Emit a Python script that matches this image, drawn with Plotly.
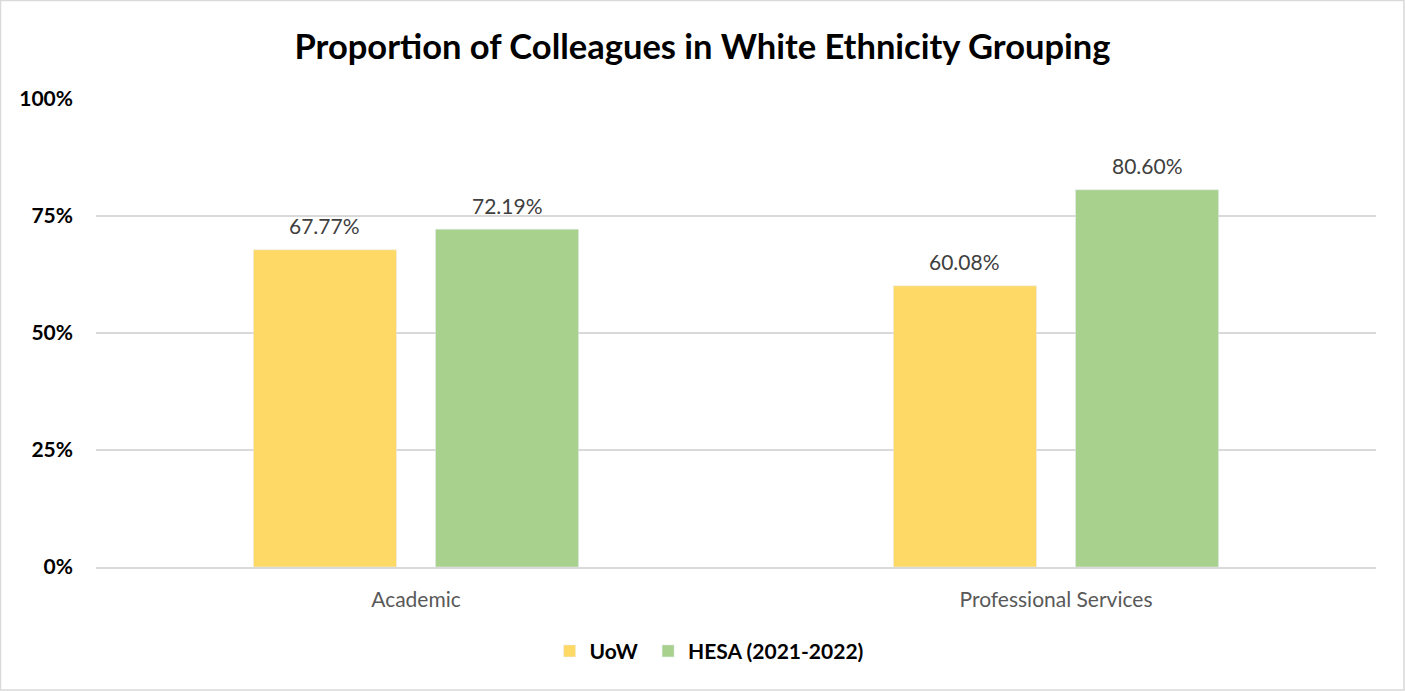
import plotly.graph_objects as go

categories = ["Academic", "Professional Services"]
uow = [67.77, 60.08]
hesa = [72.19, 80.60]
series_names = ["UoW", "HESA (2021-2022)"]
title = "Proportion of Colleagues in White Ethnicity Grouping"
y_ticks = [0, 25, 50, 75, 100]
y_tick_labels = ["0%", "25%", "50%", "75%", "100%"]

FONT = "Lato"
BARGAP = 0.431
GROUPGAP = 0.214
series = [(series_names[0], uow, "#FFD966"), (series_names[1], hesa, "#A9D18E")]

fig = go.Figure()
for i, (name, vals, color) in enumerate(series):
    label = f"<b>{name}</b>" + ("\u00a0" if i == 0 else "")
    fig.add_trace(go.Bar(x=categories, y=vals, name=label, marker_color=color))

# data labels positioned through the category axis
slot = (1 - BARGAP) / len(series)
for i, (name, vals, color) in enumerate(series):
    off = -(1 - BARGAP) / 2 + slot * (i + 0.5)
    for ci, v in enumerate(vals):
        fig.add_annotation(x=ci + off, y=v, xref="x", yref="y", text=f"{v:.2f}%",
                           showarrow=False, yanchor="middle", yshift=24,
                           font=dict(family=FONT, size=21, color="#404040"))

fig.update_layout(
    width=1405, height=691,
    paper_bgcolor="white", plot_bgcolor="white",
    margin=dict(l=96, r=29, t=99, b=124),
    barmode="group", bargap=BARGAP, bargroupgap=GROUPGAP,
    title=dict(text=f"<b>{title}</b>", x=0.5, xanchor="center", y=0.932, yanchor="middle",
               font=dict(family=FONT, size=34.5, color="black")),
    legend=dict(orientation="h", x=0.479, xanchor="center", y=-0.18, yanchor="middle",
                font=dict(family=FONT, size=21, color="black"), itemwidth=30,
                traceorder="normal"),
    showlegend=True,
    shapes=[dict(type="rect", xref="paper", yref="paper", x0=-95.5/1280, x1=1+28/1280,
                 y0=-123/468, y1=1+98.5/468, line=dict(color="#D9D9D9", width=1.5))],
)
fig.update_yaxes(range=[0, 100], tickvals=y_ticks, ticktext=[f"<b>{t}</b>" for t in y_tick_labels],
                 showgrid=True, gridcolor="#D9D9D9", gridwidth=1.5, zeroline=False,
                 tickfont=dict(family=FONT, size=21, color="black"), ticklabelstandoff=22,
                 showline=False)
fig.update_xaxes(tickfont=dict(family=FONT, size=21, color="#595959"), showline=True,
                 linecolor="#D9D9D9", linewidth=1.5, ticklabelstandoff=13)

fig.write_html("out.html", config={"displayModeBar": False},
               post_script="document.body.style.margin='0';document.body.style.padding='0';")
